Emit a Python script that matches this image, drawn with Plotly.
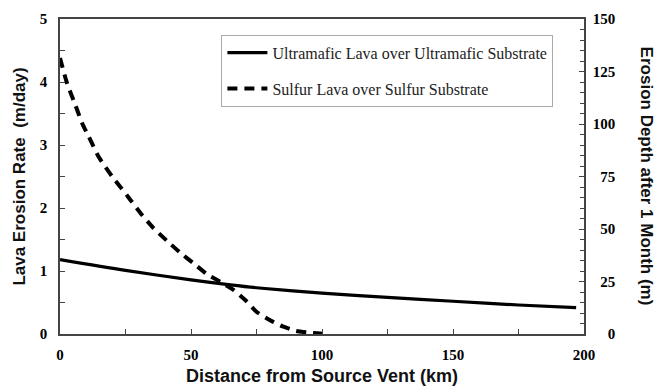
import plotly.graph_objects as go

# Ultramafic lava over ultramafic substrate (solid)
ultra_km = [0, 25, 50, 65, 76, 100, 125, 150, 175, 197]
ultra_rate = [1.18, 1.01, 0.86, 0.78, 0.73, 0.65, 0.58, 0.52, 0.46, 0.42]

# Sulfur lava over sulfur substrate (dashed)
sulfur_km = [0, 2.7, 5.9, 8.4, 11, 14.8, 19.9, 25.6, 30.7, 35.7, 40.8, 45.9, 51,
             56.1, 61.1, 66.2, 70.7, 75.1, 80.2, 85, 90, 95.4, 102]
sulfur_rate = [4.38, 3.98, 3.63, 3.35, 3.13, 2.81, 2.50, 2.20, 1.92, 1.68, 1.48,
               1.29, 1.12, 0.95, 0.83, 0.70, 0.54, 0.35, 0.22, 0.12, 0.05, 0.02, 0.0]

x_ticks = [0, 50, 100, 150, 200]
x_labels = ["0", "50", "100", "150", "200"]
y_ticks = [0, 1, 2, 3, 4, 5]
y_labels = ["0", "1", "2", "3", "4", "5"]
y2_ticks = [0, 25, 50, 75, 100, 125, 150]
y2_labels = ["\u2007\u20070", "\u200725", "\u200750", "\u200775", "100", "125", "150"]

names = ["Ultramafic Lava over Ultramafic Substrate", "Sulfur Lava over Sulfur Substrate"]


def bold(labels):
    return ["<b>" + t + "</b>" for t in labels]


tickfont = dict(family="Liberation Serif", size=15, color="#000")
titlefont = dict(family="Liberation Sans", size=17, color="#111", weight="bold")
axcol = "#444"

fig = go.Figure()
fig.add_trace(go.Scatter(x=ultra_km, y=ultra_rate, mode="lines", name=names[0],
                         legendgroup="a",
                         line=dict(color="black", width=3.2, shape="spline", smoothing=0.8)))
fig.add_trace(go.Scatter(x=sulfur_km, y=sulfur_rate, mode="lines", name=names[1],
                         legendgroup="b",
                         line=dict(color="black", width=4, dash="10px,7px",
                                   shape="spline", smoothing=0.6)))

# the page body adds an 8px offset, so the figure is sized/margined to compensate
fig.update_layout(
    width=658, height=381,
    margin=dict(l=52, r=82, t=11, b=55, autoexpand=False),
    paper_bgcolor="white", plot_bgcolor="white",
    showlegend=True,
    legend=dict(x=0.308, y=0.95, xanchor="left", yanchor="top",
                bgcolor="white", bordercolor="#aaa", borderwidth=1,
                font=dict(family="Liberation Serif", size=16, color="#222"),
                tracegroupgap=12, itemwidth=40),
    xaxis=dict(range=[0, 200], tickvals=x_ticks, ticktext=bold(x_labels),
               ticks="inside", ticklen=5,
               tickcolor=axcol, showline=True, linecolor=axcol, linewidth=1.5,
               mirror=True, showgrid=False, zeroline=False, automargin=False,
               minor=dict(dtick=25, ticks="inside", ticklen=5, tickcolor=axcol),
               tickfont=tickfont, ticklabelstandoff=6,
               title=dict(text="Distance from Source Vent (km)",
                          font=dict(family="Liberation Sans", size=18, color="#111",
                                    weight="bold"),
                          standoff=8)),
    yaxis=dict(range=[0, 5], tickvals=y_ticks, ticktext=bold(y_labels),
               ticks="inside", ticklen=5,
               tickcolor=axcol, showline=True, linecolor=axcol, linewidth=1.5,
               showgrid=False, zeroline=False, automargin=False,
               minor=dict(dtick=0.5, ticks="inside", ticklen=5, tickcolor=axcol),
               tickfont=tickfont, ticklabelstandoff=8,
               title=dict(text="Lava Erosion Rate  (m/day)", font=titlefont,
                          standoff=10)),
    yaxis2=dict(range=[0, 150], overlaying="y", side="right", tickvals=y2_ticks,
                ticktext=bold(y2_labels), automargin=False,
                ticks="inside", ticklen=5, tickcolor=axcol, showline=True,
                linecolor=axcol, linewidth=1.5, showgrid=False, zeroline=False,
                minor=dict(dtick=5, ticks="inside", ticklen=4, tickcolor=axcol),
                tickfont=tickfont, ticklabelstandoff=4),
)

# invisible trace so the right axis is drawn
fig.add_trace(go.Scatter(x=[None], y=[None], yaxis="y2", showlegend=False, hoverinfo="skip"))

fig.add_annotation(text="Erosion Depth after 1 Month (m)", xref="paper", yref="paper",
                   x=1.12, y=0.5, xanchor="center", yanchor="middle", textangle=90,
                   showarrow=False, font=titlefont)

fig.write_html("out.html")
